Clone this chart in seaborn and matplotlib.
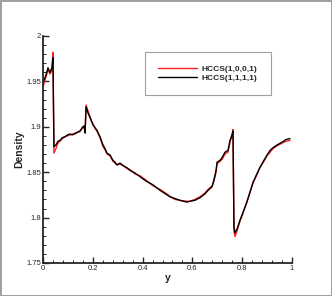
import numpy as np
import pandas as pd
import matplotlib
matplotlib.use("Agg")
import matplotlib.pyplot as plt
from matplotlib.ticker import MultipleLocator, FuncFormatter
import seaborn as sns

# data
y_pos = [0.000, 0.012, 0.020, 0.028, 0.036, 0.040, 0.044, 0.052, 0.060, 0.068,
         0.078, 0.088, 0.098, 0.108, 0.118, 0.129, 0.139, 0.149, 0.157, 0.165,
         0.169, 0.173, 0.181, 0.189, 0.195, 0.201, 0.209, 0.217, 0.229, 0.241,
         0.249, 0.257, 0.269, 0.275, 0.281, 0.289, 0.297, 0.309, 0.323, 0.337,
         0.349, 0.370, 0.390, 0.415, 0.442, 0.470, 0.498, 0.510, 0.530, 0.550,
         0.578, 0.590, 0.610, 0.631, 0.650, 0.663, 0.679, 0.683, 0.691, 0.695,
         0.699, 0.711, 0.719, 0.731, 0.743, 0.751, 0.759, 0.763, 0.767, 0.771,
         0.780, 0.791, 0.805, 0.819, 0.831, 0.843, 0.857, 0.871, 0.885, 0.900,
         0.912, 0.924, 0.940, 0.960, 0.976, 0.992]

dens_1001 = [1.944, 1.955, 1.963, 1.958, 1.962, 1.982, 1.871, 1.876, 1.882, 1.884,
             1.887, 1.889, 1.890, 1.891, 1.892, 1.892, 1.894, 1.896, 1.898, 1.900,
             1.895, 1.924, 1.917, 1.911, 1.906, 1.903, 1.898, 1.895, 1.888, 1.878,
             1.875, 1.870, 1.868, 1.865, 1.862, 1.860, 1.858, 1.859, 1.857, 1.854,
             1.853, 1.848, 1.846, 1.841, 1.835, 1.831, 1.826, 1.823, 1.820, 1.819,
             1.818, 1.818, 1.820, 1.823, 1.827, 1.831, 1.835, 1.837, 1.845, 1.850,
             1.859, 1.862, 1.864, 1.870, 1.872, 1.883, 1.890, 1.897, 1.785, 1.779,
             1.786, 1.796, 1.806, 1.818, 1.827, 1.839, 1.846, 1.855, 1.861, 1.868,
             1.872, 1.876, 1.879, 1.882, 1.884, 1.885]

dens_1111 = [1.948, 1.957, 1.965, 1.960, 1.965, 1.976, 1.878, 1.880, 1.884, 1.885,
             1.888, 1.889, 1.891, 1.892, 1.891, 1.893, 1.894, 1.895, 1.899, 1.901,
             1.893, 1.922, 1.915, 1.910, 1.906, 1.902, 1.899, 1.896, 1.889, 1.880,
             1.876, 1.871, 1.869, 1.866, 1.863, 1.861, 1.858, 1.860, 1.857, 1.855,
             1.852, 1.849, 1.845, 1.840, 1.836, 1.830, 1.825, 1.823, 1.821, 1.819,
             1.817, 1.818, 1.819, 1.822, 1.826, 1.830, 1.834, 1.838, 1.847, 1.852,
             1.861, 1.863, 1.866, 1.872, 1.874, 1.885, 1.891, 1.895, 1.789, 1.783,
             1.788, 1.797, 1.807, 1.817, 1.828, 1.838, 1.847, 1.855, 1.862, 1.869,
             1.874, 1.877, 1.880, 1.883, 1.886, 1.887]

labels = ["HCCS(1,0,0,1)", "HCCS(1,1,1,1)"]
colors = ["#ff2020", "black"]

df = pd.DataFrame({
    "y": y_pos * 2,
    "Density": dens_1001 + dens_1111,
    "scheme": [labels[0]] * len(y_pos) + [labels[1]] * len(y_pos),
})

sns.set_style("ticks")
plt.rcParams["font.family"] = ["Liberation Sans", "DejaVu Sans"]

fig = plt.figure(figsize=(3.32, 2.96), dpi=100)
fig.patch.set_edgecolor("#a0a0a0")
fig.patch.set_linewidth(2)
ax = fig.add_axes([0.1295, 0.1115, 0.75, 0.767])

sns.lineplot(data=df, x="y", y="Density", hue="scheme",
             palette=colors, linewidth=1.0, ax=ax, sort=False)

ax.set_xlim(0, 1)
ax.set_ylim(1.75, 2.0)
ax.xaxis.set_major_locator(MultipleLocator(0.2))
ax.xaxis.set_minor_locator(MultipleLocator(0.04))
ax.yaxis.set_major_locator(MultipleLocator(0.05))
ax.yaxis.set_minor_locator(MultipleLocator(0.01))
fmt = FuncFormatter(lambda v, p: "%g" % round(v, 3))
ax.xaxis.set_major_formatter(fmt)
ax.yaxis.set_major_formatter(fmt)
ax.tick_params(which="major", direction="in", length=4, width=1.0,
               labelsize=5.5, pad=1.5)
ax.tick_params(which="minor", direction="in", length=2, width=0.7)
sns.despine(ax=ax)
for s in ["left", "bottom"]:
    ax.spines[s].set_linewidth(1.3)

ax.set_xlabel("y", fontsize=7.5, fontweight="bold", labelpad=1)
ax.set_ylabel("Density", fontsize=7.5, fontweight="bold", labelpad=1)

leg = ax.legend(loc="upper left", bbox_to_anchor=(0.41, 0.93), fontsize=6,
                frameon=True, fancybox=False, edgecolor="#888888",
                handlelength=4.6, handletextpad=0.6, borderpad=1.6,
                labelspacing=0.1, borderaxespad=0)
leg.get_frame().set_linewidth(0.8)
for t in leg.get_texts():
    t.set_fontweight("bold")

plt.savefig("out.png", dpi=100)
